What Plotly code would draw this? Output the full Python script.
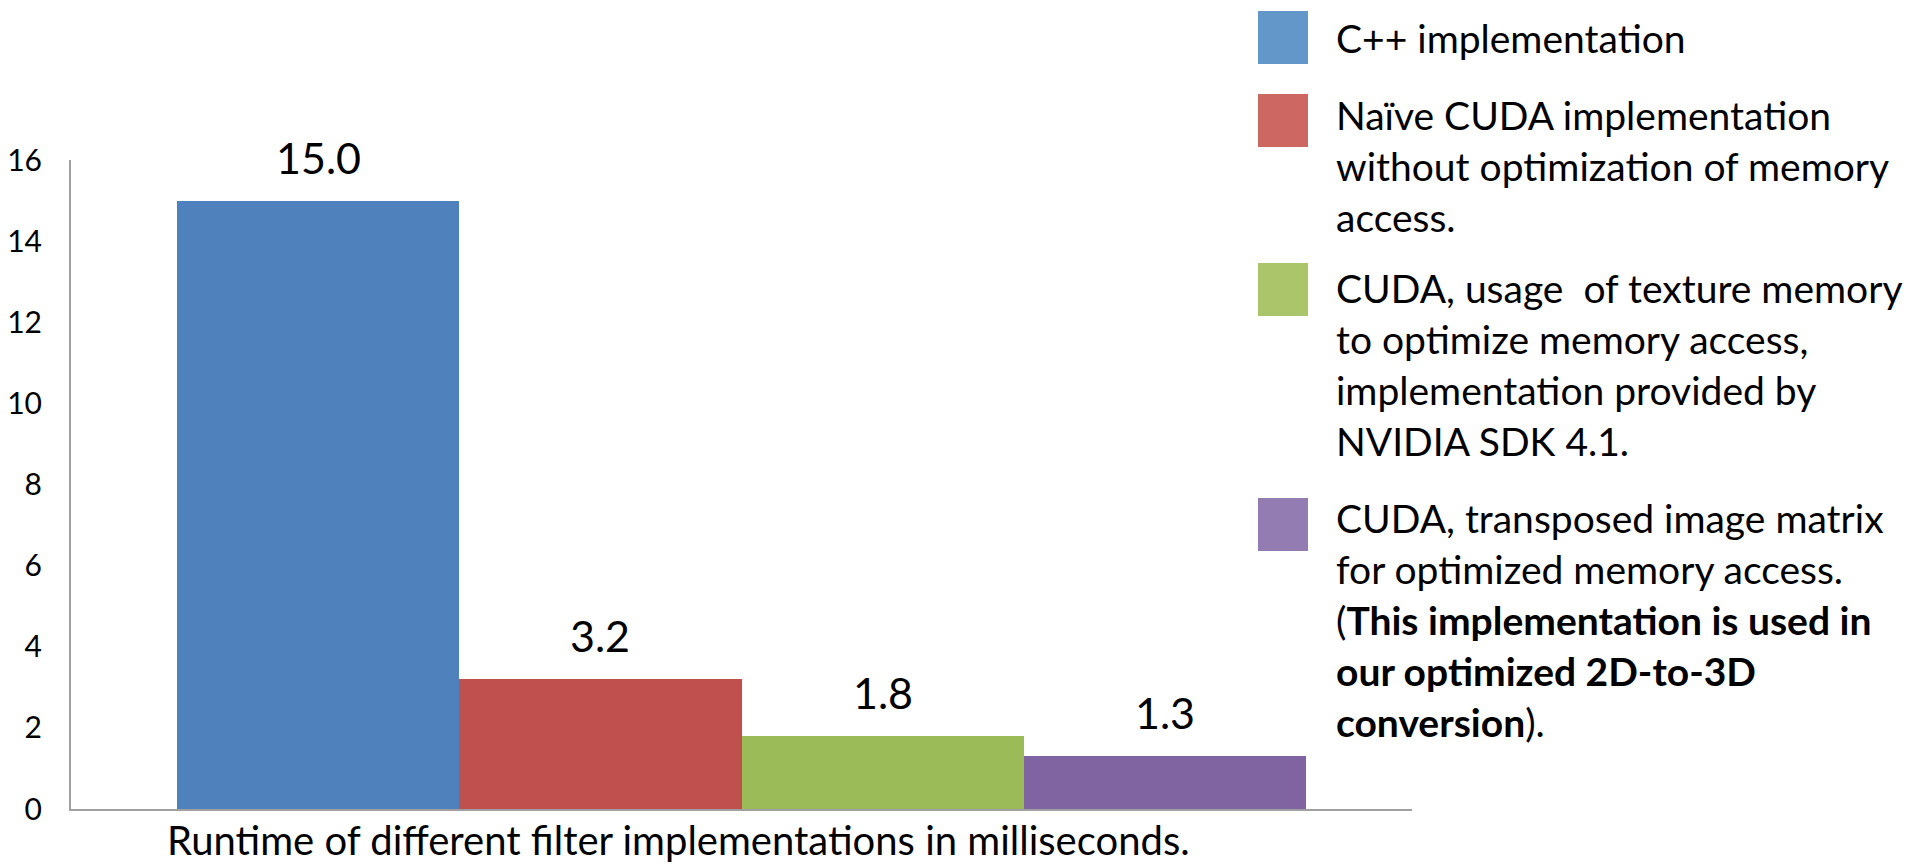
import plotly.graph_objects as go

# Runtime of each filter implementation (ms)
implementations = [
    "C++ implementation",
    "Naïve CUDA implementation without optimization of memory access.",
    "CUDA, usage of texture memory to optimize memory access, implementation provided by NVIDIA SDK 4.1.",
    "CUDA, transposed image matrix for optimized memory access.",
]
runtime_ms = [15.0, 3.2, 1.8, 1.3]
bar_colors = ["#4f81bd", "#c0504d", "#9bbb59", "#8064a2"]
legend_colors = ["#6397c9", "#cd6761", "#abc56b", "#937cb2"]
legend_lines = [
    ["C++ implementation"],
    ["Naïve CUDA implementation", "without optimization of memory", "access."],
    ["CUDA, usage\u00a0 of texture memory", "to optimize memory access,",
     "implementation provided by", "NVIDIA SDK 4.1."],
    ["CUDA, transposed image matrix", "for optimized memory access.",
     "(<b>This implementation is used in</b>", "<b>our optimized 2D-to-3D</b>",
     "<b>conversion</b>)."],
]
y_ticks = [0, 2, 4, 6, 8, 10, 12, 14, 16]
x_caption = "Runtime of different filter implementations in milliseconds."

W, H = 1907, 864
L, R, T, B = 71, 1412, 160, 809  # plot area in pixels
FONT = "Lato, Carlito, Calibri, sans-serif"


def px(x):
    return (x - L) / (R - L)


def py(y):
    return (B - y) / (B - T)


fig = go.Figure(
    go.Bar(
        x=implementations,
        y=runtime_ms,
        marker=dict(color=bar_colors, line=dict(width=0)),
        width=1.0,
        hoverinfo="y",
        showlegend=False,
    )
)

annotations = []
# value labels above the bars
for name, v in zip(implementations, runtime_ms):
    annotations.append(dict(
        x=name, y=v, xref="x", yref="y", text=f"{v:.1f}", showarrow=False,
        xanchor="center", yanchor="bottom", yshift=16,
        font=dict(family=FONT, size=43, color="black"),
    ))

# category caption under the axis
CAP_FS = 40
annotations.append(dict(
    x=px(678), y=py(855 - 0.387 * CAP_FS), xref="paper", yref="paper",
    text=x_caption, showarrow=False, xanchor="center", yanchor="middle",
    font=dict(family=FONT, size=CAP_FS, color="black"),
))

# legend: coloured patches and wrapped descriptions
shapes = []
patch_tops = [11, 94, 263, 498]
first_baselines = [53, 130, 303, 533]
LEG_FS = 39
LINE_STEP = 51
for color, top, base0, lines in zip(legend_colors, patch_tops, first_baselines, legend_lines):
    shapes.append(dict(
        type="rect", xref="paper", yref="paper",
        x0=px(1258), x1=px(1308), y0=py(top), y1=py(top + 53),
        fillcolor=color, line=dict(width=0),
    ))
    for i, line in enumerate(lines):
        base = base0 + i * LINE_STEP
        annotations.append(dict(
            x=px(1334), y=py(base - 0.387 * LEG_FS), xref="paper", yref="paper",
            text=line, showarrow=False, xanchor="left", yanchor="middle",
            font=dict(family=FONT, size=LEG_FS, color="black"),
        ))

fig.update_layout(
    width=W, height=H, autosize=False,
    margin=dict(l=L, r=W - R, t=T, b=H - B, pad=0),
    paper_bgcolor="white", plot_bgcolor="white",
    bargap=0,
    annotations=annotations,
    shapes=shapes,
    font=dict(family=FONT, color="black"),
)
fig.update_xaxes(
    range=[-0.876, 3.876], showticklabels=False, ticks="", automargin=False,
    showline=True, linecolor="#a0a0a0", linewidth=2, showgrid=False,
    zeroline=False, fixedrange=True,
)
fig.update_yaxes(
    range=[0, 16], tickvals=y_ticks, ticks="", ticklabelstandoff=21,
    automargin=False,
    tickfont=dict(family=FONT, size=30, color="black"),
    showline=True, linecolor="#a0a0a0", linewidth=2, showgrid=False,
    zeroline=False, fixedrange=True,
)

fig.write_html("out.html")
